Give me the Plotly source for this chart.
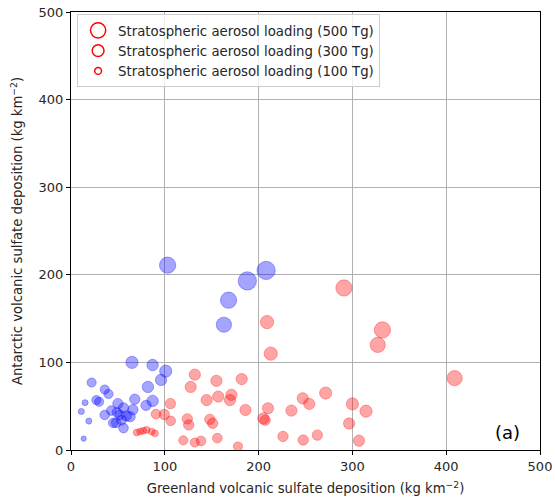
import numpy as np
import plotly.graph_objects as go

# Blue series (Greenland x, Antarctic y, loading in Tg)
blue_x = [103, 208, 188, 168, 163, 65, 87, 101, 96, 82, 87, 80, 68, 22, 36, 40, 27, 30,
          15, 11, 19, 13.5, 50, 43, 49, 56, 66, 36, 59, 63, 45, 48, 54, 56, 52]
blue_y = [211, 205, 193, 171, 143, 100, 97, 90, 80, 72, 56, 51, 58, 77, 69, 64, 57, 55,
          54, 44, 33, 13, 53, 45, 43, 48, 46, 40, 39, 38, 31, 31, 34, 25, 40]
blue_load = [570, 720, 720, 570, 500, 320, 280, 320, 280, 280, 280, 230, 230, 180, 180, 180, 180, 180,
             80, 80, 80, 60, 230, 200, 200, 230, 230, 200, 230, 230, 200, 200, 200, 200, 200]

# Red series
red_x = [291, 332, 327, 409, 209, 213, 132, 127.6, 155, 182, 144.6, 157, 171, 169.5, 186,
         148, 151, 156, 178, 210, 205, 207, 226, 235, 247, 254, 247.6, 262.6, 271.5, 300,
         314.5, 296.5, 307, 106, 90.6, 99.5, 106.3, 124, 125.5, 119.7, 132, 138.6,
         70, 73.6, 77, 80.6, 86, 89.5]
red_y = [185, 137, 120, 82, 146, 110, 86, 72, 79, 81, 57, 61, 63, 57, 45.7,
         35, 30.5, 13.5, 4, 47.6, 36, 34, 15.5, 45, 59, 52.6, 11.4, 17, 65, 52.6,
         44.3, 30.3, 10.6, 53, 41, 40.5, 33.3, 35.5, 28.6, 11, 8.5, 10.3,
         20, 21, 22, 23, 21, 19]
red_load = [570, 570, 500, 500, 380, 380, 270, 270, 270, 270, 270, 270, 270, 270, 270,
            230, 230, 200, 180, 270, 270, 230, 230, 270, 270, 270, 230, 230, 320, 320,
            320, 270, 270, 230, 200, 230, 200, 230, 230, 180, 180, 200,
            100, 100, 100, 100, 100, 100]

legend_loads = [500, 300, 100]
legend_names = ["Stratospheric aerosol loading (%d Tg)" % v for v in legend_loads]

x_ticks = [0, 100, 200, 300, 400, 500]
y_ticks = [0, 100, 200, 300, 400, 500]

K = 0.68  # px diameter per sqrt(Tg)

def diam(loads):
    return [K * np.sqrt(v) for v in loads]

fig = go.Figure()
fig.add_trace(go.Scatter(
    x=blue_x, y=blue_y, mode="markers", showlegend=False,
    marker=dict(size=diam(blue_load), color="rgba(0,0,255,0.5)",
                line=dict(color="rgba(0,0,255,0.5)", width=1))))
fig.add_trace(go.Scatter(
    x=red_x, y=red_y, mode="markers", showlegend=False,
    marker=dict(size=diam(red_load), color="rgba(255,0,0,0.5)",
                line=dict(color="rgba(255,0,0,0.5)", width=1))))
for v, n in zip(legend_loads, legend_names):
    fig.add_trace(go.Scatter(
        x=[None], y=[None], mode="markers", name=n,
        marker=dict(size=K * np.sqrt(v), color="rgba(0,0,0,0)",
                    line=dict(color="red", width=1.5))))

axis_common = dict(
    showgrid=True, gridcolor="#b0b0b0", gridwidth=1,
    showline=True, linecolor="black", linewidth=1.2, mirror=True,
    ticks="outside", ticklen=4, tickcolor="black", tickwidth=1,
    zeroline=False, automargin=False,
    tickfont=dict(family="DejaVu Sans", size=13, color="#262626"),
)

fig.update_layout(
    width=555, height=502,
    margin=dict(l=71, r=15, t=12, b=52),
    paper_bgcolor="white", plot_bgcolor="white",
    font=dict(family="DejaVu Sans", size=12, color="#262626"),
    xaxis=dict(range=[0, 500], tickvals=x_ticks,
               title=dict(text="Greenland volcanic sulfate deposition (kg km<sup>−2</sup>)",
                          font=dict(size=13.2), standoff=11),
               **axis_common),
    yaxis=dict(range=[0, 500], tickvals=y_ticks,
               title=dict(text="Antarctic volcanic sulfate deposition (kg km<sup>−2</sup>)",
                          font=dict(size=13.2), standoff=12),
               **axis_common),
    legend=dict(x=0.013, y=0.995, xanchor="left", yanchor="top",
                bgcolor="rgba(255,255,255,0.8)", bordercolor="#cccccc", borderwidth=1,
                font=dict(family="DejaVu Sans", size=13.3, color="#262626"),
                itemsizing="trace", tracegroupgap=0),
    annotations=[dict(x=0.962, y=0.012, xref="paper", yref="paper", xanchor="right",
                      yanchor="bottom", text="(a)", showarrow=False,
                      font=dict(family="DejaVu Sans", size=18, color="black"))],
)

fig.write_html("out.html")
